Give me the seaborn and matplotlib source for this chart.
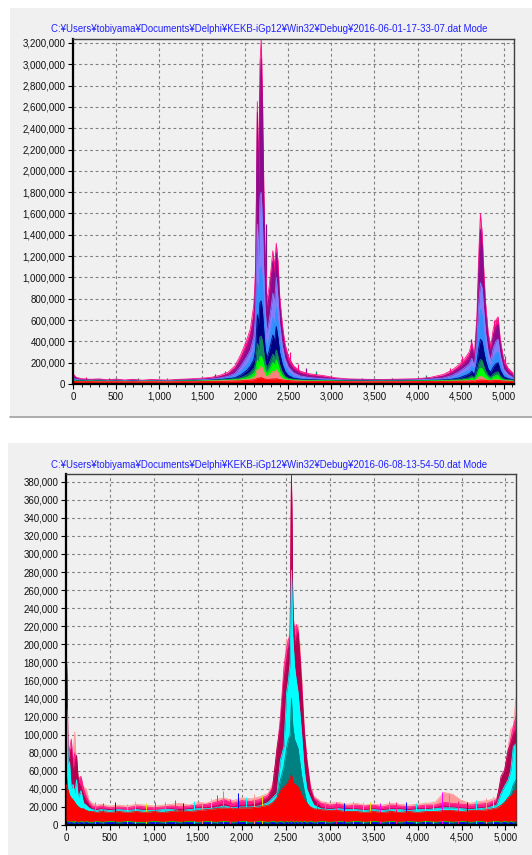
import numpy as np
import matplotlib
matplotlib.use("Agg")
import matplotlib.pyplot as plt
from matplotlib.patches import Rectangle
from matplotlib.lines import Line2D
from matplotlib.ticker import FuncFormatter, MultipleLocator
import seaborn as sns

sns.set_theme(style="white")
plt.rcParams["font.family"] = ["Liberation Sans", "DejaVu Sans"]

# ---------------- data: top panel (values in thousands) ----------------
title_top = "C:¥Users¥tobiyama¥Documents¥Delphi¥KEKB-iGp12¥Win32¥Debug¥2016-06-01-17-33-07.dat Mode"
freq_top = [0, 40, 100, 200, 300, 400, 500, 600, 700, 800,
            900, 1000, 1100, 1200, 1300, 1400, 1500, 1600, 1700, 1800,
            1880, 1950, 2020, 2060, 2100, 2120, 2140, 2155, 2170, 2185,
            2200, 2215, 2230, 2250, 2275, 2300, 2320, 2340, 2360, 2380,
            2400, 2430, 2460, 2500, 2560, 2640, 2750, 2900, 3050, 3200,
            3400, 3600, 3800, 4000, 4150, 4300, 4400, 4480, 4550, 4600,
            4630, 4660, 4690, 4710, 4730, 4750, 4770, 4790, 4820, 4850,
            4880, 4910, 4935, 4960, 5000, 5050, 5110]
top_pink = [95, 62, 50, 44, 48, 40, 46, 38, 44, 36, 42, 40, 37, 43, 46, 50, 55, 62, 80, 110,
            170, 280, 420, 520, 750, 1100, 2650, 1900, 3000, 3240,
            2700, 1850, 1250, 780, 900, 1080, 1250, 1100, 1320, 1150,
            820, 560, 380, 260, 170, 120, 95, 80, 58, 48,
            44, 42, 46, 50, 62, 90, 130, 180, 240, 300,
            390, 270, 650, 1200, 1600, 1420, 1050, 760, 480, 350,
            520, 600, 630, 420, 230, 150, 100]
top_purple = [75, 50, 42, 38, 40, 34, 38, 33, 37, 31, 36, 34, 32, 36, 39, 42, 46, 52, 66, 90,
              140, 230, 350, 440, 620, 950, 2550, 1700, 2700, 3050,
              2400, 1650, 1100, 680, 800, 980, 1150, 980, 1230, 1020,
              720, 480, 320, 210, 140, 100, 78, 64, 48, 42,
              39, 37, 40, 44, 52, 72, 105, 150, 200, 250,
              330, 230, 560, 1050, 1450, 1280, 930, 660, 410, 300,
              460, 530, 560, 360, 190, 120, 80]
top_slate = [58, 42, 37, 33, 36, 30, 34, 30, 33, 28, 32, 30, 29, 32, 35, 37, 40, 45, 55, 72,
             100, 170, 260, 320, 450, 650, 1500, 1200, 1750, 1800,
             1500, 1050, 720, 480, 580, 720, 850, 760, 1000, 800,
             560, 360, 240, 160, 105, 75, 60, 50, 42, 37,
             35, 33, 36, 39, 45, 56, 80, 115, 155, 190,
             240, 170, 400, 750, 950, 900, 680, 480, 300, 220,
             340, 400, 420, 270, 140, 90, 60]
top_dodger = [45, 36, 33, 30, 32, 27, 31, 27, 30, 25, 29, 28, 26, 29, 31, 33, 36, 40, 48, 60,
              75, 120, 180, 230, 320, 450, 950, 800, 1080, 1100,
              950, 700, 480, 330, 400, 520, 620, 540, 720, 580,
              400, 260, 170, 115, 75, 56, 47, 41, 36, 33,
              31, 30, 32, 35, 38, 44, 58, 80, 110, 135,
              170, 120, 280, 520, 700, 650, 480, 340, 210, 160,
              240, 290, 300, 190, 100, 65, 45]
top_navy = [38, 32, 30, 27, 30, 26, 28, 25, 28, 24, 27, 26, 25, 27, 29, 30, 33, 36, 42, 50,
            58, 85, 130, 170, 230, 320, 650, 560, 760, 780,
            680, 500, 340, 240, 300, 390, 460, 400, 540, 430,
            290, 185, 120, 80, 55, 45, 40, 36, 32, 30,
            29, 28, 30, 32, 34, 38, 45, 56, 78, 95,
            120, 85, 200, 330, 420, 400, 300, 220, 140, 110,
            160, 190, 200, 130, 70, 50, 40]
top_teal = [34, 30, 28, 26, 31, 24, 29, 23, 27, 25, 25, 28, 23, 28, 27, 29, 31, 34, 38, 44,
            48, 60, 85, 110, 150, 200, 380, 330, 440, 450,
            400, 300, 210, 150, 185, 240, 280, 250, 320, 260,
            180, 115, 75, 55, 44, 38, 35, 32, 29, 28,
            27, 26, 28, 30, 31, 34, 38, 42, 52, 62,
            78, 56, 120, 190, 230, 220, 170, 125, 82, 65,
            95, 110, 115, 75, 48, 40, 35]
top_lime = [30, 27, 26, 28, 25, 27, 24, 26, 23, 26, 27, 24, 26, 25, 28, 27, 29, 31, 34, 38,
            42, 48, 60, 75, 100, 130, 220, 200, 255, 260,
            235, 180, 130, 100, 125, 165, 200, 180, 225, 185,
            125, 80, 55, 45, 38, 34, 31, 30, 28, 26,
            25, 27, 26, 28, 29, 31, 33, 35, 40, 45,
            55, 42, 85, 130, 150, 145, 115, 85, 58, 46,
            68, 78, 80, 52, 38, 34, 30]
top_salmon = [28, 24, 23, 24, 22, 23, 23, 22, 22, 22, 23, 22, 22, 23, 24, 24, 26, 28, 30, 33,
              35, 38, 42, 48, 62, 80, 140, 125, 160, 165,
              150, 115, 85, 65, 80, 100, 120, 110, 135, 110,
              75, 50, 40, 36, 32, 29, 27, 26, 25, 23,
              22, 22, 23, 24, 25, 26, 27, 28, 30, 32,
              35, 30, 45, 62, 70, 68, 55, 42, 36, 33,
              38, 40, 41, 34, 30, 28, 26]
top_red = [26, 22, 21, 22, 20, 21, 21, 20, 21, 20, 21, 20, 20, 21, 22, 21, 22, 23, 24, 26,
           28, 30, 34, 36, 40, 44, 55, 52, 58, 60,
           56, 50, 46, 42, 44, 46, 48, 46, 50, 46,
           42, 38, 35, 32, 28, 25, 24, 23, 22, 21,
           20, 21, 21, 22, 23, 24, 25, 26, 27, 28,
           30, 28, 32, 36, 38, 38, 36, 34, 31, 30,
           32, 33, 33, 31, 28, 26, 24]
# isolated narrow spikes (frequency, thousands)
top_spike_freq = [150, 420, 760, 1090, 1380, 1650, 1760, 2080, 2105, 2245, 2290, 2520, 2610,
                  2700, 2820, 3000, 3350, 3700, 4100, 4380, 4520, 4620, 4705, 4890, 5020]
top_spike_val = [70, 58, 55, 52, 60, 90, 120, 600, 660, 1500, 1000, 300, 190,
                 150, 120, 80, 60, 58, 80, 150, 260, 420, 900, 600, 260]

# ---------------- data: bottom panel (values in thousands) ----------------
title_bot = "C:¥Users¥tobiyama¥Documents¥Delphi¥KEKB-iGp12¥Win32¥Debug¥2016-06-08-13-54-50.dat Mode"
freq_bot = [0, 10, 25, 40, 60, 80, 100, 120, 140, 170,
            200, 230, 260, 300, 350, 400, 500, 600, 700, 800,
            900, 1000, 1100, 1200, 1300, 1400, 1500, 1600, 1700, 1800,
            1900, 2000, 2100, 2200, 2300, 2350, 2400, 2440, 2480, 2510,
            2530, 2550, 2565, 2580, 2600, 2620, 2640, 2660, 2680, 2710,
            2740, 2780, 2820, 2900, 3000, 3100, 3200, 3300, 3400, 3500,
            3600, 3700, 3800, 3900, 4000, 4100, 4200, 4300, 4400, 4500,
            4600, 4700, 4800, 4900, 4950, 4990, 5030, 5060, 5090, 5120]
bot_salmon = [160, 100, 70, 65, 85, 80, 103, 60, 55, 45, 42, 40, 28, 24, 22, 23, 21, 22, 21, 23,
              22, 21, 22, 23, 24, 22, 25, 24, 28, 30, 27, 30, 29, 31, 35, 45, 70, 110, 170, 206,
              200, 220, 380, 250, 200, 215, 222, 200, 165, 110, 75, 45, 32, 26, 24, 25, 23, 24, 22, 23,
              22, 24, 23, 22, 23, 24, 25, 36, 34, 27, 24, 26, 27, 30, 45, 55, 85, 106, 110, 141]
bot_pink = [180, 120, 60, 84, 95, 70, 80, 60, 50, 54, 40, 32, 25, 21, 20, 21, 19, 20, 19, 21,
            20, 19, 20, 21, 20, 21, 22, 23, 25, 28, 24, 27, 26, 28, 33, 42, 80, 120, 175, 195,
            205, 210, 385, 240, 210, 222, 215, 190, 160, 105, 72, 42, 30, 24, 22, 23, 21, 22, 21, 22,
            20, 22, 21, 20, 21, 22, 22, 25, 24, 23, 22, 23, 24, 28, 50, 58, 80, 95, 109, 120]
bot_crimson = [150, 178, 70, 72, 84, 60, 65, 77, 48, 42, 33, 27, 22, 18, 17, 18, 17, 17, 16, 18,
               17, 16, 17, 18, 17, 18, 19, 19, 21, 23, 20, 22, 22, 24, 30, 40, 85, 110, 160, 180,
               195, 200, 389, 243, 200, 205, 213, 185, 150, 100, 70, 39, 28, 20, 18, 19, 18, 18, 17, 18,
               17, 18, 18, 17, 18, 18, 19, 21, 20, 19, 18, 19, 20, 25, 54, 61, 83, 90, 100, 105]
bot_cyan = [95, 128, 60, 70, 40, 45, 35, 50, 30, 38, 24, 22, 19, 17, 16, 17, 16, 17, 16, 17,
            16, 16, 17, 17, 16, 17, 18, 18, 19, 21, 19, 20, 20, 21, 25, 30, 35, 72, 87, 147,
            160, 180, 282, 210, 176, 160, 147, 125, 102, 61, 40, 30, 22, 18, 17, 18, 17, 17, 16, 17,
            16, 17, 17, 16, 17, 17, 18, 19, 19, 18, 17, 18, 19, 22, 35, 43, 50, 60, 87, 90]
bot_teal = [60, 50, 35, 30, 28, 25, 22, 22, 20, 18, 17, 16, 15, 14, 13, 13, 12, 13, 12, 13,
            12, 12, 13, 13, 12, 13, 13, 14, 14, 15, 14, 15, 15, 16, 18, 22, 30, 50, 65, 85,
            95, 100, 140, 110, 95, 90, 85, 70, 55, 38, 25, 18, 15, 13, 12, 13, 12, 13, 12, 13,
            12, 13, 13, 12, 13, 13, 13, 14, 14, 13, 13, 13, 14, 16, 20, 25, 30, 35, 45, 50]
bot_lime = [7, 6, 7, 6, 7, 6, 7, 6, 6, 7, 6, 7, 6, 6, 7, 6, 7, 6, 7, 6,
            6, 7, 6, 7, 6, 7, 6, 7, 6, 7, 6, 7, 6, 7, 6, 7, 6, 7, 6, 7,
            6, 7, 6, 7, 6, 7, 6, 7, 6, 7, 6, 7, 6, 7, 6, 7, 6, 7, 6, 7,
            6, 7, 6, 7, 6, 7, 6, 7, 6, 7, 6, 7, 6, 7, 6, 7, 6, 7, 6, 7]
bot_blue = [3, 2, 3, 2, 3, 2, 2, 3, 2, 3, 2, 3, 2, 2, 3, 2, 3, 2, 3, 2,
            2, 3, 2, 3, 2, 3, 2, 3, 2, 3, 2, 3, 2, 3, 2, 3, 2, 3, 2, 3,
            2, 3, 2, 3, 2, 3, 2, 3, 2, 3, 2, 3, 2, 3, 2, 3, 2, 3, 2, 3,
            2, 3, 2, 3, 2, 3, 2, 3, 2, 3, 2, 3, 2, 3, 2, 3, 2, 3, 2, 3]
bot_red_low = [5, 4, 5, 4, 5, 4, 5, 4, 4, 5, 4, 5, 4, 4, 5, 4, 5, 4, 5, 4,
               4, 5, 4, 5, 4, 5, 4, 5, 4, 5, 4, 5, 4, 5, 4, 5, 4, 5, 4, 5,
               4, 5, 4, 5, 4, 5, 4, 5, 4, 5, 4, 5, 4, 5, 4, 5, 4, 5, 4, 5,
               4, 5, 4, 5, 4, 5, 4, 5, 4, 5, 4, 5, 4, 5, 4, 5, 4, 5, 4, 5]
bot_red = [45, 42, 38, 33, 30, 28, 25, 22, 20, 18, 18, 16, 15, 15, 14, 15, 14, 15, 14, 15,
           14, 15, 14, 15, 16, 15, 16, 17, 18, 19, 18, 19, 19, 20, 22, 25, 30, 38, 42, 45,
           48, 52, 56, 48, 45, 44, 42, 38, 34, 28, 24, 20, 18, 17, 16, 16, 15, 15, 14, 15,
           14, 15, 14, 15, 14, 15, 15, 16, 16, 15, 16, 16, 17, 19, 22, 25, 30, 32, 35, 40]
# isolated narrow noise spikes (frequency, thousands)
bot_spike_freq = [330, 420, 560, 690, 780, 905, 1010, 1130, 1240, 1330, 1460, 1550, 1650, 1720,
                  1790, 1870, 1960, 2050, 2140, 2230, 2860, 2950, 3070, 3160, 3270, 3380, 3460,
                  3570, 3680, 3760, 3870, 3980, 4080, 4170, 4280, 4354, 4460, 4560, 4670, 4780, 4860]
bot_spike_val = [26, 24, 25, 23, 27, 24, 26, 25, 28, 24, 27, 26, 30, 33,
                 38, 29, 35, 31, 34, 32, 27, 25, 26, 24, 27, 25, 26,
                 24, 27, 25, 26, 24, 26, 27, 36, 34, 27, 25, 28, 30, 32]

W, H = 532, 855
fig = plt.figure(figsize=(W / 100, H / 100), dpi=100)
fig.patch.set_facecolor("white")
PANEL = "#f0f0f0"
fig.patches.append(Rectangle((10 / W, 1 - 417 / H), 522 / W, 409 / H, transform=fig.transFigure,
                             facecolor=PANEL, edgecolor="none", zorder=-5))
fig.lines.append(Line2D([10 / W, 1], [1 - 417 / H, 1 - 417 / H], transform=fig.transFigure,
                        color="#a0a0a0", lw=1.2, zorder=-4))
fig.patches.append(Rectangle((8 / W, 0), 524 / W, 1 - 443 / H, transform=fig.transFigure,
                             facecolor=PANEL, edgecolor="none", zorder=-5))

thousands = FuncFormatter(lambda v, p: f"{int(round(v)):,}")


def style_axes(ax, xmax, ymax, ystep):
    ax.set_facecolor(PANEL)
    ax.set_xlim(0, xmax)
    ax.set_ylim(0, ymax)
    ax.xaxis.set_major_locator(MultipleLocator(500))
    ax.xaxis.set_minor_locator(MultipleLocator(100))
    ax.yaxis.set_major_locator(MultipleLocator(ystep))
    ax.xaxis.set_major_formatter(thousands)
    ax.yaxis.set_major_formatter(thousands)
    ax.tick_params(axis="both", which="major", direction="out", length=3.5, width=0.8,
                   color="black", labelsize=7, labelcolor="#111111", pad=2,
                   bottom=True, left=True)
    ax.tick_params(axis="x", which="minor", direction="out", length=2, width=0.6,
                   color="black", bottom=True)
    ax.grid(True, which="major", color="#808080", linestyle=(0, (2.5, 2.5)), lw=0.8)
    ax.set_axisbelow(True)
    for s in ("left", "bottom"):
        ax.spines[s].set_color("black")
        ax.spines[s].set_linewidth(1.6)
    for s in ("top", "right"):
        ax.spines[s].set_color("#404040")
        ax.spines[s].set_linewidth(1.0)
    ax.set_xlabel("")
    ax.set_ylabel("")


def draw_layer(ax, x, vals, color, low=None, z=2):
    y = np.asarray(vals, float) * 1000
    y0 = 0 if low is None else np.asarray(low, float) * 1000
    ax.fill_between(x, y0, y, color=color, lw=0, zorder=z)
    sns.lineplot(x=x, y=y, color=color, lw=0.6, ax=ax, estimator=None, sort=False, zorder=z)


def draw_spikes(ax, x, vals, palette, z, lw):
    y = np.asarray(vals, float) * 1000
    cols = [palette[i % len(palette)] for i in range(len(x))]
    ax.vlines(x, 0, y, colors=cols, lw=lw, zorder=z)


# ---------------- top panel ----------------
ax1 = fig.add_axes([73 / W, 1 - 384 / H, (514 - 73) / W, (384 - 39) / H])
draw_spikes(ax1, top_spike_freq, top_spike_val, ["#ff0f87", "#8c0a8c", "#118a5a", "#ff0f87"], 1.9, 0.9)
for vals, col in [(top_pink, "#ff0f87"), (top_purple, "#8c0a8c"), (top_slate, "#8080ff"),
                  (top_dodger, "#2f8fff"), (top_navy, "#000080"), (top_teal, "#118a5a"),
                  (top_lime, "#00ff00"), (top_salmon, "#ff8080"), (top_red, "#ff0000")]:
    draw_layer(ax1, freq_top, vals, col)
style_axes(ax1, 5120, 3237000, 200000)
fig.text(269 / W, 1 - 29 / H, title_top, ha="center", va="center", color="#2020ff", fontsize=6.9)

# ---------------- bottom panel ----------------
ax2 = fig.add_axes([66 / W, 1 - 825 / H, (516 - 66) / W, (825 - 474) / H])
for vals, col in [(bot_salmon, "#ff9a9a"), (bot_pink, "#ff1a8a"), (bot_crimson, "#b0004e"),
                  (bot_cyan, "#00ffff"), (bot_teal, "#008080"), (bot_lime, "#00e000"),
                  (bot_blue, "#0000ff")]:
    draw_layer(ax2, freq_bot, vals, col)
draw_spikes(ax2, bot_spike_freq, bot_spike_val,
            ["#00ff00", "#ff1a8a", "#0000ff", "#00ffff", "#ff9a9a", "#e0e000", "#ff00ff"], 2.5, 0.7)
draw_layer(ax2, freq_bot, bot_red, "#ff0000", low=bot_red_low, z=3)
style_axes(ax2, 5120, 388500, 20000)
fig.text(269 / W, 1 - 465 / H, title_bot, ha="center", va="center", color="#2020ff", fontsize=6.9)

fig.savefig("out.png", dpi=100, facecolor="white")
